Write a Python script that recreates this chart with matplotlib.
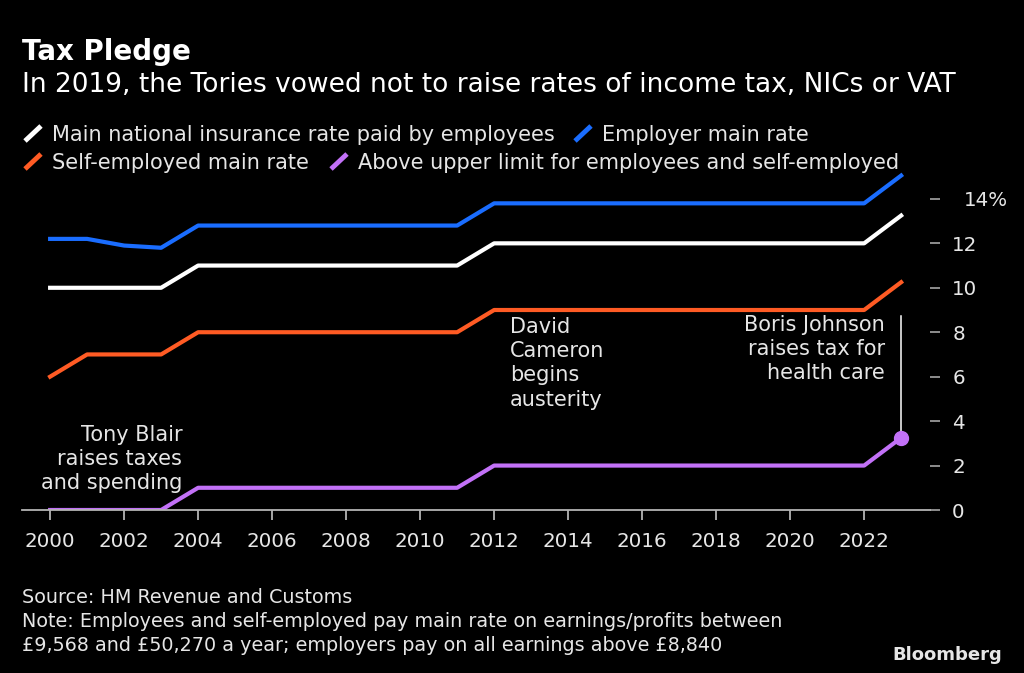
import matplotlib
matplotlib.use('Agg')
import matplotlib.pyplot as plt
from matplotlib.lines import Line2D
from matplotlib.transforms import ScaledTranslation

plt.rcParams['font.family'] = ['DejaVu Sans']

# NIC rates (%)
years = [2000, 2001, 2002, 2003, 2004, 2005, 2006, 2007, 2008, 2009, 2010, 2011,
         2012, 2013, 2014, 2015, 2016, 2017, 2018, 2019, 2020, 2021, 2022, 2023]
employees = [10, 10, 10, 10, 11, 11, 11, 11, 11, 11, 11, 11,
             12, 12, 12, 12, 12, 12, 12, 12, 12, 12, 12, 13.25]
employer = [12.2, 12.2, 11.9, 11.8, 12.8, 12.8, 12.8, 12.8, 12.8, 12.8, 12.8, 12.8,
            13.8, 13.8, 13.8, 13.8, 13.8, 13.8, 13.8, 13.8, 13.8, 13.8, 13.8, 15.05]
self_employed = [6, 7, 7, 7, 8, 8, 8, 8, 8, 8, 8, 8,
                 9, 9, 9, 9, 9, 9, 9, 9, 9, 9, 9, 10.25]
upper_limit = [0, 0, 0, 0, 1, 1, 1, 1, 1, 1, 1, 1,
               2, 2, 2, 2, 2, 2, 2, 2, 2, 2, 2, 3.25]

x_ticks = [2000, 2002, 2004, 2006, 2008, 2010, 2012, 2014, 2016, 2018, 2020, 2022]
y_ticks = [0, 2, 4, 6, 8, 10, 12, 14]
y_labels = ['0', '2', '4', '6', '8', '10', '12', '14%']

BG = '#000000'
TXT = '#e6e6e6'
GREY = '#b4b4b4'
WHITE = '#ffffff'
BLUE = '#1a6dff'
ORANGE = '#ff5b24'
PURPLE = '#c271f7'

W, H = 1024, 673
fig = plt.figure(figsize=(W / 100, H / 100), dpi=100, facecolor=BG)

def px(x, y):
    # pixel position -> figure fraction
    return x / W, 1 - y / H

ax = fig.add_axes([22 / W, 1 - 510 / H, (930 - 22) / W, (510 - 170) / H])
ax.set_facecolor(BG)

ax.plot(years, employer, color=BLUE, lw=3, solid_joinstyle='round')
ax.plot(years, employees, color=WHITE, lw=3, solid_joinstyle='round')
ax.plot(years, self_employed, color=ORANGE, lw=3, solid_joinstyle='round')
ax.plot(years, upper_limit, color=PURPLE, lw=3, solid_joinstyle='round')

# Johnson callout
ax.plot([years[-1], years[-1]], [8.75, upper_limit[-1]], color=WHITE, lw=1.1)
ax.plot(years[-1], upper_limit[-1], 'o', color=PURPLE, ms=10, mec=PURPLE)

ax.set_xlim(1999.24, 2023.78)
ax.set_ylim(0, 15.3)

for s in ['top', 'left', 'right']:
    ax.spines[s].set_visible(False)
ax.spines['bottom'].set_color(GREY)
ax.spines['bottom'].set_linewidth(1.3)

ax.set_xticks(x_ticks)
ax.set_xticklabels([str(t) for t in x_ticks])
ax.tick_params(axis='x', colors=GREY, labelcolor=TXT, labelsize=14.3,
               length=7, width=1.3, pad=9, direction='out')

ax.yaxis.tick_right()
ax.set_yticks(y_ticks)
ax.set_yticklabels(y_labels)
ax.tick_params(axis='y', colors=GREY, labelcolor=TXT, labelsize=14.3,
               length=7, width=1.1, pad=9, direction='out')
for lab in ax.get_yticklabels():
    lab.set_horizontalalignment('left')
    if lab.get_text().endswith('%'):
        lab.set_transform(lab.get_transform() + ScaledTranslation(0.12, 0, fig.dpi_scale_trans))

# annotations
ax.text(2003.57, 2.3, 'Tony Blair\nraises taxes\nand spending', color=TXT,
        fontsize=15, ha='right', va='center', linespacing=1.27)
ax.text(2012.43, 6.6, 'David\nCameron\nbegins\nausterity', color=TXT,
        fontsize=15, ha='left', va='center', linespacing=1.27)
ax.text(2022.57, 7.25, 'Boris Johnson\nraises tax for\nhealth care', color=TXT,
        fontsize=15, ha='right', va='center', linespacing=1.27)

# title block
fig.text(*px(22, 60), 'Tax Pledge', color=WHITE, fontsize=20, fontweight='bold', va='baseline')
fig.text(*px(22, 92), 'In 2019, the Tories vowed not to raise rates of income tax, NICs or VAT',
         color=WHITE, fontsize=19, va='baseline')

# legend, drawn by hand
legend_items = [
    (25, 141, WHITE, 'Main national insurance rate paid by employees'),
    (575, 141, BLUE, 'Employer main rate'),
    (25, 169, ORANGE, 'Self-employed main rate'),
    (331, 169, PURPLE, 'Above upper limit for employees and self-employed'),
]
for x0, yb, col, label in legend_items:
    x1, y1 = px(x0, yb)
    x2, y2 = px(x0 + 16, yb - 15)
    fig.add_artist(Line2D([x1, x2], [y1, y2], color=col, lw=3.5,
                          transform=fig.transFigure, solid_capstyle='butt'))
    fig.text(*px(x0 + 27, yb), label, color=TXT, fontsize=15, va='baseline')

# footer
fig.text(*px(22, 603), 'Source: HM Revenue and Customs', color=TXT, fontsize=13.8, va='baseline')
fig.text(*px(22, 627), 'Note: Employees and self-employed pay main rate on earnings/profits between',
         color=TXT, fontsize=13.8, va='baseline')
fig.text(*px(22, 651), '£9,568 and £50,270 a year; employers pay on all earnings above £8,840',
         color=TXT, fontsize=13.8, va='baseline')
fig.text(*px(1002, 660), 'Bloomberg', color=TXT, fontsize=13, fontweight='bold',
         ha='right', va='baseline')

fig.savefig('out.png', dpi=100, facecolor=BG)
